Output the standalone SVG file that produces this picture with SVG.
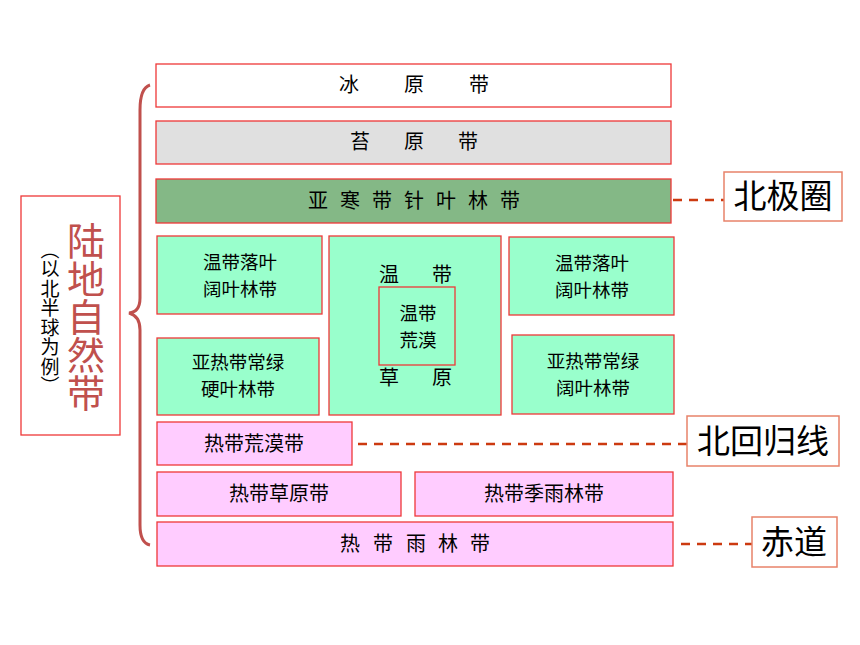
<svg xmlns="http://www.w3.org/2000/svg" width="860" height="645" viewBox="0 0 860 645">
<style>
text{font-family:"Noto Sans CJK SC","Noto Sans",sans-serif;fill:#000}
.b{stroke:#ee3838;stroke-width:1.3}
.t{font-size:20px;text-anchor:middle}
.t2{font-size:18.5px;text-anchor:middle}
.lb{fill:#fff;stroke:#e8826a;stroke-width:1.5}
.lt{font-size:33px;text-anchor:middle}
.d{stroke:#cc3a10;stroke-width:2.5;stroke-dasharray:9 7;fill:none}
.w{fill:#fff}.g{fill:#e0e0e0}.dg{fill:#84b886}.lg{fill:#99ffcc}.p{fill:#ffccff}
</style>
<rect width="860" height="645" fill="#fff"/>
<g id="title">
<rect x="21" y="196" width="99" height="239" fill="#fff" stroke="#ee3838" stroke-width="1.3"/>
<text x="86" y="222" style="writing-mode:vertical-rl;font-size:38px;fill:#c0504d;text-anchor:start">陆地自然带</text>
<text x="50" y="240" style="writing-mode:vertical-rl;font-size:19px;letter-spacing:0.5px;text-anchor:start">（以北半球为例）</text>
</g>
<g id="brace">
<path d="M150 85 Q140 88 140 110 L140 298 Q140 312 129 313 Q140 316 140 330 L140 525 Q140 543 150 545" fill="none" stroke="#c0504d" stroke-width="3"/>
</g>
<g id="n1"><rect class="b w" x="156" y="64" width="515" height="43"/><text class="t" x="349 414 479" y="92">冰原带</text></g>
<g id="n2"><rect class="b g" x="156" y="121" width="515" height="43"/><text class="t" x="360 414 468" y="149">苔原带</text></g>
<g id="n3"><rect class="b dg" x="156" y="179" width="515" height="44"/><text class="t" x="318 350 382 414 446 478 510" y="208">亚寒带针叶林带</text></g>
<g id="n4"><rect class="b lg" x="157" y="236" width="165" height="78"/><text class="t2" x="240" y="269">温带落叶<tspan x="240" dy="27">阔叶林带</tspan></text></g>
<g id="n5"><rect class="b lg" x="329" y="236" width="172" height="179"/><text class="t" x="389 442" y="282">温带</text><text class="t" x="389 442" y="385">草原</text></g>
<g id="n6"><rect class="b lg" x="379" y="287" width="76" height="78"/><text class="t2" x="418" y="320">温带<tspan x="418" dy="27">荒漠</tspan></text></g>
<g id="n7"><rect class="b lg" x="509" y="237" width="165" height="78"/><text class="t2" x="592" y="270">温带落叶<tspan x="592" dy="27">阔叶林带</tspan></text></g>
<g id="n8"><rect class="b lg" x="157" y="338" width="162" height="77"/><text class="t2" x="238" y="369">亚热带常绿<tspan x="238" dy="27">硬叶林带</tspan></text></g>
<g id="n9"><rect class="b lg" x="512" y="335" width="162" height="79"/><text class="t2" x="593" y="368">亚热带常绿<tspan x="593" dy="27">阔叶林带</tspan></text></g>
<g id="n10"><rect class="b p" x="157" y="422" width="195" height="43"/><text class="t" x="254" y="451">热带荒漠带</text></g>
<g id="n11"><rect class="b p" x="157" y="472" width="244" height="44"/><text class="t" x="279" y="501">热带草原带</text></g>
<g id="n12"><rect class="b p" x="415" y="472" width="258" height="44"/><text class="t" x="544" y="501">热带季雨林带</text></g>
<g id="n13"><rect class="b p" x="157" y="522" width="516" height="44"/><text class="t" x="350 383 416 448 480" y="551">热带雨林带</text></g>
<g id="connectors">
<line class="d" x1="673" y1="200" x2="724" y2="200"/>
<line class="d" x1="358" y1="444" x2="687" y2="444"/>
<line class="d" x1="681" y1="544" x2="752" y2="544"/>
</g>
<g id="l1"><rect class="lb" x="724" y="172" width="118" height="49"/><text class="lt" x="783" y="208">北极圈</text></g>
<g id="l2"><rect class="lb" x="687" y="416" width="152" height="50"/><text class="lt" x="763" y="453">北回归线</text></g>
<g id="l3"><rect class="lb" x="752" y="517" width="85" height="50"/><text class="lt" x="794" y="554">赤道</text></g>
</svg>
